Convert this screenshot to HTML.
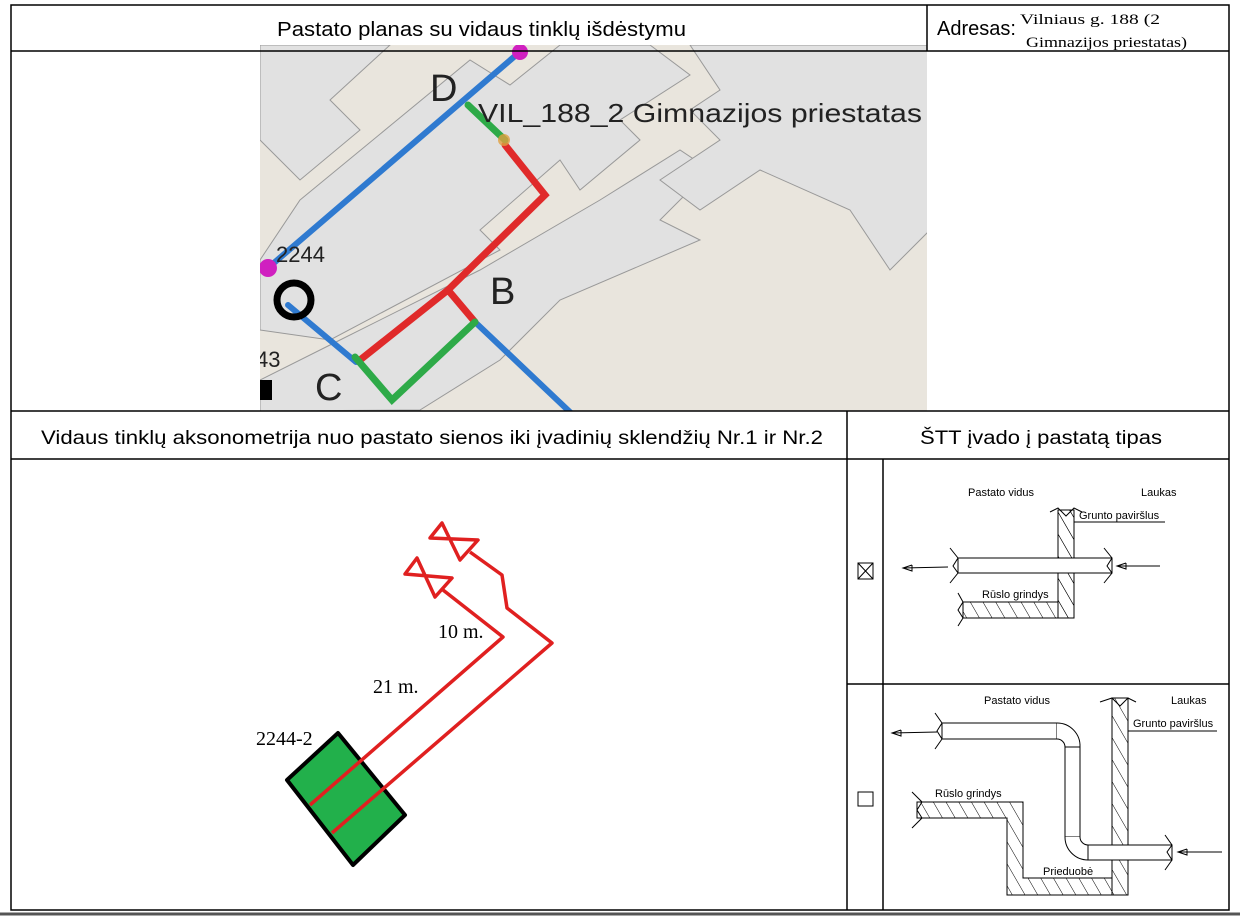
<!DOCTYPE html>
<html><head><meta charset="utf-8"><style>
html,body{margin:0;padding:0;background:#fff;}
svg{display:block;}
</style></head><body>
<svg width="1240" height="916" viewBox="0 0 1240 916" xmlns="http://www.w3.org/2000/svg">
<rect width="1240" height="916" fill="#fff"/>
<defs><clipPath id="mc"><rect x="260" y="45" width="667" height="366"/></clipPath>
<pattern id="h" width="11" height="11" patternUnits="userSpaceOnUse" patternTransform="rotate(-30)"><line x1="0" y1="0" x2="0" y2="11" stroke="#000" stroke-width="1"/></pattern></defs>
<g clip-path="url(#mc)">
<rect x="260" y="45" width="667" height="366" fill="#e9e5dd"/>
<g fill="#e1e1e1" stroke="#999" stroke-width="1">
<polygon points="260,45 390,45 330,100 360,130 300,180 260,140"/>
<polygon points="300,200 470,60 510,85 560,45 650,45 690,75 620,120 640,140 580,190 560,160 480,230 500,250 330,340 260,330 260,260"/>
<polygon points="330,345 480,270 600,200 680,150 710,170 660,220 700,240 560,300 500,360 420,410 260,411 260,380"/>
<polygon points="690,45 930,45 930,230 890,270 850,210 760,170 700,210 660,180 720,140 690,110 720,90"/>
</g>
<g stroke-linecap="round" fill="none">
<line x1="522" y1="50" x2="268" y2="268" stroke="#2f7ad0" stroke-width="6"/>
<line x1="288" y1="305" x2="356" y2="362" stroke="#2f7ad0" stroke-width="6"/>
<line x1="475" y1="322" x2="572" y2="414" stroke="#2f7ad0" stroke-width="6"/>
<polyline points="505,145 545,195 448,290 360,360" stroke="#e02a2a" stroke-width="7"/>
<line x1="448" y1="290" x2="475" y2="322" stroke="#e02a2a" stroke-width="7"/>
<line x1="468" y1="105" x2="505" y2="140" stroke="#2eaa48" stroke-width="7"/>
<polyline points="355,357 392,400 475,322" stroke="#2eaa48" stroke-width="7"/>
</g>
<circle cx="520" cy="52" r="8" fill="#d020c0"/>
<circle cx="268" cy="268" r="9" fill="#d020c0"/>
<circle cx="504" cy="140" r="6" fill="#e0a040" opacity="0.8"/>
<circle cx="294" cy="300" r="17" fill="none" stroke="#000" stroke-width="7"/>
<rect x="260" y="380" width="12" height="20" fill="#000"/>
<g font-family="Liberation Sans, sans-serif" fill="#222">
<text x="430" y="101" font-size="38">D</text>
<text x="478" y="122" font-size="26" textLength="444" lengthAdjust="spacingAndGlyphs">VIL_188_2 Gimnazijos priestatas</text>
<text x="490" y="304" font-size="38">B</text>
<text x="315" y="400" font-size="38">C</text>
<text x="276" y="262" font-size="22">2244</text>
<text x="256" y="367" font-size="22">43</text>
</g>
</g>
<g stroke="#000" stroke-width="1.5" fill="none">
<rect x="11" y="5" width="1218" height="905"/>
<line x1="11" y1="51" x2="1229" y2="51"/>
<line x1="927" y1="5" x2="927" y2="51"/>
<line x1="11" y1="411" x2="1229" y2="411"/>
<line x1="11" y1="459" x2="1229" y2="459"/>
<line x1="847" y1="411" x2="847" y2="910"/>
<line x1="883" y1="459" x2="883" y2="910"/>
<line x1="847" y1="684" x2="1229" y2="684"/>
</g>
<line x1="0" y1="914" x2="1240" y2="914" stroke="#555" stroke-width="3"/>
<g font-family="Liberation Sans, sans-serif" fill="#000">
<text x="277" y="36" font-size="20" textLength="409" lengthAdjust="spacingAndGlyphs">Pastato planas su vidaus tinklų išdėstymu</text>
<text x="937" y="35" font-size="20">Adresas:</text>
<text x="41" y="444" font-size="19" textLength="782" lengthAdjust="spacingAndGlyphs">Vidaus tinklų aksonometrija nuo pastato sienos iki įvadinių sklendžių Nr.1 ir Nr.2</text>
<text x="920" y="444" font-size="19" textLength="242" lengthAdjust="spacingAndGlyphs">ŠTT įvado į pastatą tipas</text>
</g>
<g font-family="Liberation Serif, serif" font-size="15" fill="#000">
<text x="1020" y="24" textLength="140" lengthAdjust="spacingAndGlyphs">Vilniaus g. 188 (2</text>
<text x="1026" y="47" textLength="161" lengthAdjust="spacingAndGlyphs">Gimnazijos priestatas)</text>
</g>
<polygon points="287,780 338,733 405,815 353,865" fill="#22b04b" stroke="#000" stroke-width="4" stroke-linejoin="round"/>
<g stroke="#e02020" stroke-width="3.5" fill="none" stroke-linejoin="round">
<polyline points="310,805 503,637 443,590"/>
<polyline points="332,833 552,643 507,608 502,575 470,552"/>
<polygon points="405,574 417,558 435,597 452,578"/>
<polygon points="430,538 442,523 460,560 478,540"/>
</g>
<g font-family="Liberation Serif, serif" font-size="20" fill="#000">
<text x="438" y="638">10 m.</text>
<text x="373" y="693">21 m.</text>
<text x="256" y="745">2244-2</text>
</g>
<g stroke="#000" stroke-width="1" fill="none">
<rect x="858" y="563" width="15" height="16"/>
<line x1="858" y1="563" x2="873" y2="579"/><line x1="873" y1="563" x2="858" y2="579"/>
<rect x="1058" y="510" width="16" height="108" fill="url(#h)"/>
<polygon points="963,602 1058,602 1058,510 1074,510 1074,618 963,618" fill="url(#h)"/>
<rect x="958" y="558" width="154" height="15" fill="#fff"/>
<polyline points="950,548 958,558 953,566 958,573 950,583"/>
<polyline points="1104,548 1112,558 1107,566 1112,573 1104,583"/>
<polyline points="1050,512 1058,508 1066,516 1074,508 1082,512"/>
<polyline points="958,593 963,602 958,610 963,618 958,626"/>
<line x1="1074" y1="522" x2="1165" y2="522"/>
<line x1="903" y1="568" x2="948" y2="567"/><polyline points="912,565 903,568 912,571 912,565"/>
<line x1="1117" y1="566" x2="1160" y2="566"/><polyline points="1126,563 1117,566 1126,569 1126,563"/>
</g>
<g font-family="Liberation Sans, sans-serif" font-size="11" fill="#000">
<text x="968" y="496">Pastato vidus</text>
<text x="1141" y="496">Laukas</text>
<text x="1079" y="519">Grunto paviršlus</text>
<text x="982" y="598">Rūslo grindys</text>
</g>
<g stroke="#000" stroke-width="1" fill="none">
<rect x="858" y="792" width="15" height="14"/>
<rect x="1112" y="698" width="16" height="197" fill="url(#h)"/>
<polygon points="917,802 1023,802 1023,878 1112,878 1112,895 1007,895 1007,818 917,818" fill="url(#h)"/>
<rect x="942" y="723" width="115" height="16" fill="#fff"/>
<path d="M1057,723 A23,23 0 0 1 1080,747 L1065,747 A8,8 0 0 0 1057,739" fill="#fff"/>
<rect x="1065" y="747" width="15" height="90" fill="#fff"/>
<path d="M1065,837 A23,23 0 0 0 1088,860 L1088,845 A8,8 0 0 1 1080,837" fill="#fff"/>
<rect x="1088" y="845" width="84" height="15" fill="#fff"/>
<polyline points="935,713 942,723 937,731 942,739 935,749"/>
<polyline points="1165,835 1172,845 1167,852 1172,860 1165,870"/>
<polyline points="1100,702 1112,698 1120,706 1128,698 1136,702"/>
<polyline points="912,792 922,802 917,810 922,818 912,828"/>
<line x1="1128" y1="731" x2="1217" y2="731"/>
<line x1="892" y1="733" x2="937" y2="732"/><polyline points="901,730 892,733 901,736 901,730"/>
<line x1="1178" y1="852" x2="1222" y2="852"/><polyline points="1187,849 1178,852 1187,855 1187,849"/>
</g>
<g font-family="Liberation Sans, sans-serif" font-size="11" fill="#000">
<text x="984" y="704">Pastato vidus</text>
<text x="1171" y="704">Laukas</text>
<text x="1133" y="727">Grunto paviršlus</text>
<text x="935" y="797">Rūslo grindys</text>
<text x="1043" y="875">Prieduobė</text>
</g>
</svg>
</body></html>
